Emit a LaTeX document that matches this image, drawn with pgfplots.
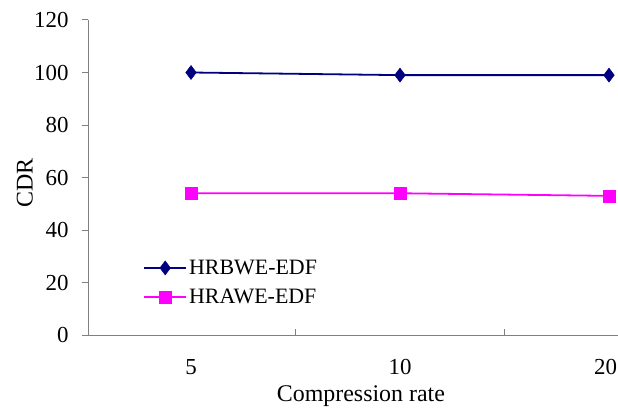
\documentclass[border=0pt]{standalone}
\usepackage{fontspec}
\setmainfont{Liberation Serif}
\usepackage{pgfplots}
\pgfplotsset{compat=1.18}
\definecolor{navyc}{HTML}{000080}
\definecolor{magc}{HTML}{FF00FF}
\definecolor{axgray}{HTML}{808080}
\begin{document}
\begin{tikzpicture}
\begin{axis}[
  at={(0,0)}, anchor=south west,
  scale only axis,
  width=530bp, height=315bp,
  xmin=-0.493, xmax=2.043,
  ymin=0, ymax=120,
  axis x line=bottom, axis y line=left,
  axis line style={-, draw=axgray, line width=1pt},
  xtick={0,1,2}, xticklabels={5,10,{20\hspace*{7bp}}},
  major x tick style={draw=none},
  minor xtick={0.5,1.5},
  minor tick length=6bp,
  minor x tick style={draw=axgray, line width=1pt, yshift=6bp},
  ytick={0,20,...,120},
  tick align=outside,
  major tick length=6bp,
  tick style={draw=axgray, line width=1pt},
  /pgf/number format/assume math mode=true,
  tick label style={font=\fontsize{23}{28}\selectfont, text=black},
  xticklabel style={yshift=-15bp},
  yticklabel style={xshift=-10bp},
  xlabel={Compression rate},
  ylabel={CDR},
  label style={font=\fontsize{24}{28}\selectfont},
  xlabel style={at={(axis description cs:0.515,-0.194)}, anchor=center},
  ylabel style={at={(axis description cs:-0.119,0.483)}, anchor=center},
  legend style={at={(axis description cs:0.104,0.245)}, anchor=north west, draw=none, fill=none,
    font=\fontsize{22}{26}\selectfont, row sep=9bp, inner sep=0pt},
  legend cell align=left,
  legend image code/.code={\draw[mark repeat=2,mark phase=2,#1] plot coordinates {(0bp,0bp) (21bp,0bp) (42bp,0bp)};},
]
\addplot[color=navyc, line width=1.8pt, mark=diamond*, mark size=7bp, mark options={solid, fill=navyc, line width=0.5pt}]
  coordinates {(0,100) (1,99) (2,99)};
\addlegendentry{HRBWE-EDF}
\addplot[color=magc, line width=1.8pt, mark=square*, mark size=6bp, mark options={solid, fill=magc, line width=0.5pt}]
  coordinates {(0,54) (1,54) (2,53)};
\addlegendentry{HRAWE-EDF}
\end{axis}
\pgfresetboundingbox
\useasboundingbox (-88bp,-77bp) rectangle (530bp,335bp);
\end{tikzpicture}
\end{document}
